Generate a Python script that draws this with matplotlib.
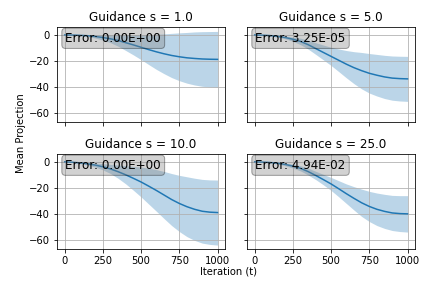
import numpy as np
import matplotlib
matplotlib.use("Agg")
import matplotlib.pyplot as plt

iterations = list(range(0, 1001, 50))
guidance = [1.0, 5.0, 10.0, 25.0]
errors = ["0.00E+00", "3.25E-05", "0.00E+00", "4.94E-02"]

mean_s1 = [0, -0.1, -0.3, -0.6, -1.2, -2.0, -3.0, -4.3, -6.0, -7.7, -9.5,
           -11.3, -13.0, -14.5, -15.8, -16.8, -17.6, -18.1, -18.5, -18.7, -18.8]
std_s1 = [0, 0.1, 0.3, 0.7, 1.2, 2.0, 3.0, 4.4, 6.0, 7.7, 9.5,
          11.5, 13.5, 15.3, 17.0, 18.4, 19.5, 20.4, 21.0, 21.3, 21.5]
mean_s5 = [0, -0.2, -0.5, -1.1, -2.0, -3.3, -5.0, -7.5, -10.5, -13.5, -16.5,
           -19.5, -22.5, -25.2, -27.5, -29.5, -31.0, -32.3, -33.2, -33.6, -33.8]
std_s5 = [0, 0.1, 0.3, 0.6, 1.0, 1.6, 2.5, 3.4, 4.5, 5.7, 7.0,
          8.7, 10.5, 12.3, 14.0, 15.2, 16.0, 16.6, 17.0, 17.2, 17.3]
mean_s10 = [0, -0.3, -0.8, -1.5, -2.5, -3.8, -5.5, -7.6, -10.0, -12.7, -15.5,
            -18.7, -22.0, -25.5, -29.0, -32.0, -34.5, -36.5, -38.0, -38.7, -39.0]
std_s10 = [0, 0.2, 0.5, 0.9, 1.5, 2.4, 3.5, 5.1, 7.0, 9.2, 11.5,
           13.8, 16.0, 18.1, 20.0, 21.6, 23.0, 23.9, 24.5, 24.8, 25.0]
mean_s25 = [0, -0.2, -0.5, -1.1, -2.0, -3.3, -5.0, -7.5, -10.5, -13.7, -17.0,
            -20.7, -24.5, -28.1, -31.5, -34.3, -36.5, -38.1, -39.3, -39.8, -40.0]
std_s25 = [0, 0.1, 0.3, 0.6, 1.0, 1.5, 2.0, 2.6, 3.2, 4.0, 5.0,
           6.2, 7.5, 9.0, 10.5, 11.6, 12.5, 13.1, 13.5, 13.8, 14.0]

means = [mean_s1, mean_s5, mean_s10, mean_s25]
stds = [std_s1, std_s5, std_s10, std_s25]


def main():
    fig, axes = plt.subplots(2, 2, figsize=(6, 4), dpi=72, sharex=True, sharey=True)
    t = np.asarray(iterations)
    for ax, s, err, m, sd in zip(axes.flat, guidance, errors, means, stds):
        m = np.asarray(m)
        sd = np.asarray(sd)
        ax.plot(t, m, color="C0")
        ax.fill_between(t, m - sd, m + sd, color="C0", alpha=0.3, linewidth=0)
        ax.set_title(f"Guidance s = {s}")
        ax.grid(True)
        ax.text(0.05, 0.95, f"Error: {err}", transform=ax.transAxes, fontsize=12,
                va="top", ha="left",
                bbox=dict(boxstyle="round", facecolor="gray", alpha=0.35))
    axes[0][0].set_xticks([0, 250, 500, 750, 1000])
    fig.subplots_adjust(left=0.132, right=0.961, top=0.906, bottom=0.134,
                        wspace=0.13, hspace=0.33)
    fig.text(0.529, 0.057, "Iteration (t)", ha="center", va="center", fontsize=10)
    fig.text(0.048, 0.538, "Mean Projection", ha="center", va="center",
             rotation=90, fontsize=10)
    fig.savefig("out.png")


if __name__ == "__main__":
    main()
